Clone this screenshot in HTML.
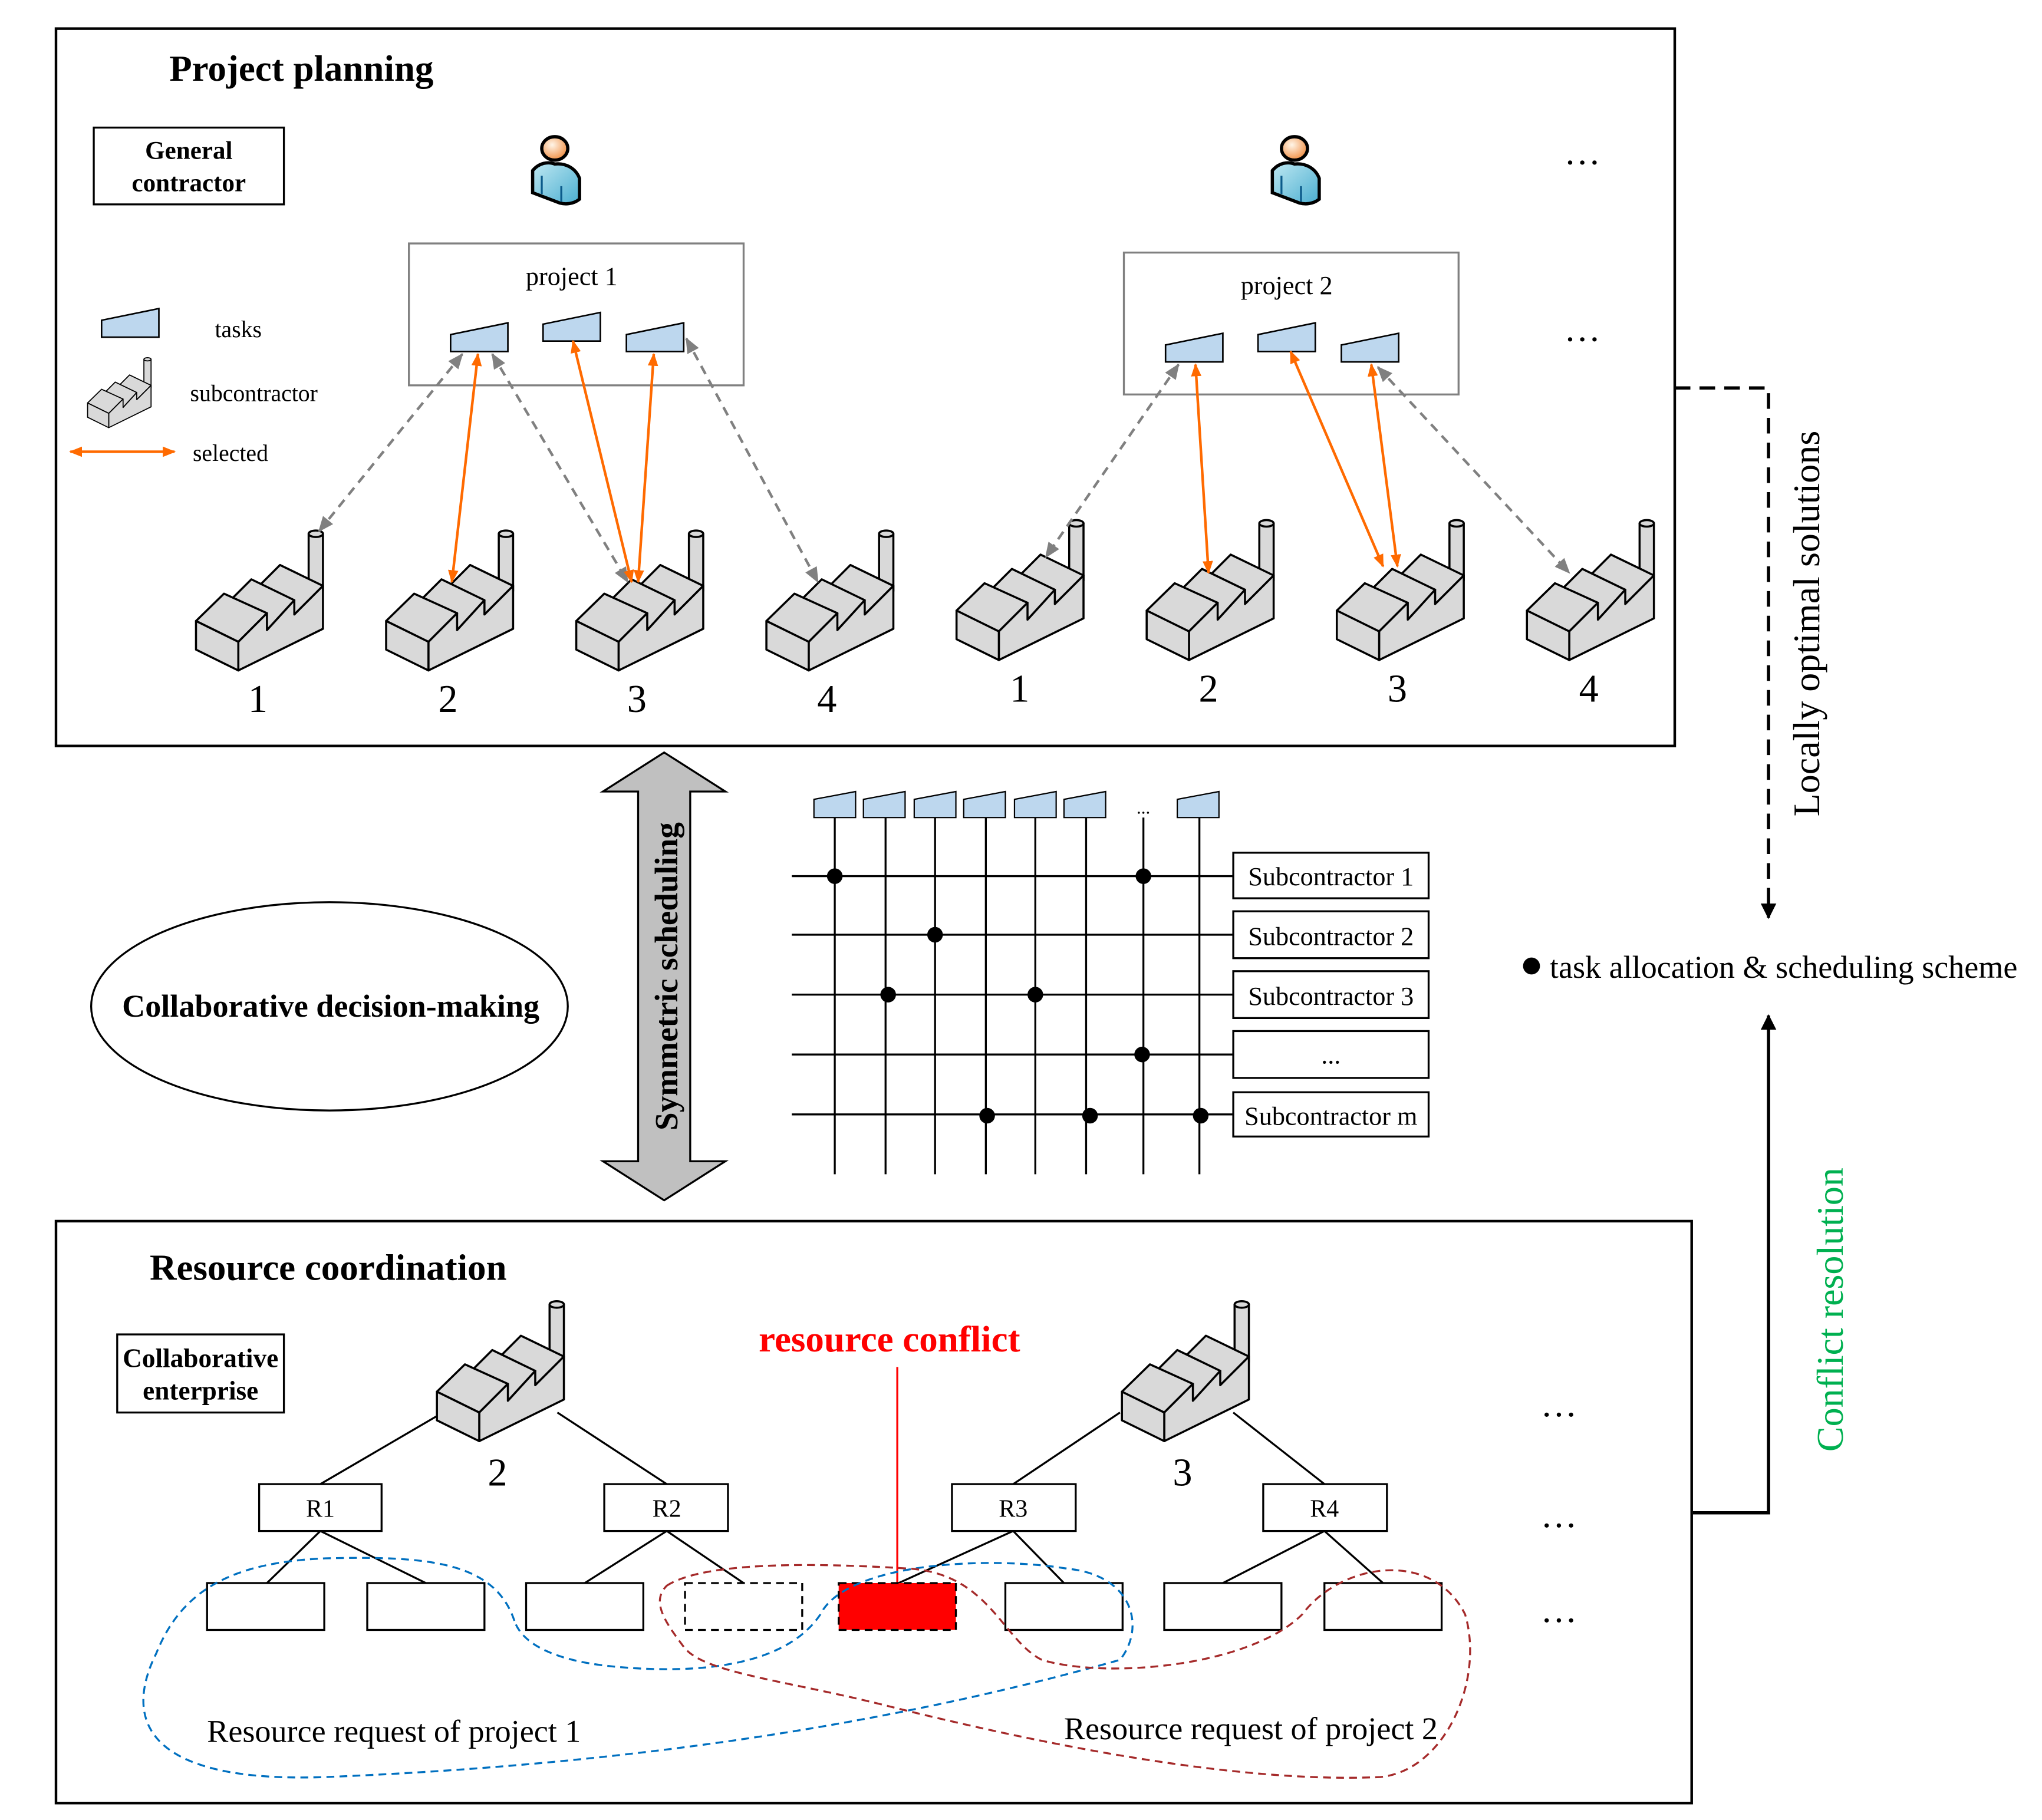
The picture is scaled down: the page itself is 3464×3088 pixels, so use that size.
<!DOCTYPE html>
<html><head><meta charset="utf-8"><style>html,body{margin:0;padding:0;background:#fff}svg{display:block}text{font-family:"Liberation Serif",serif}</style></head><body>
<svg width="3464" height="3088" viewBox="0 0 1568 1398" preserveAspectRatio="none" xmlns="http://www.w3.org/2000/svg">
<defs>
<g id="fac" stroke="#000" stroke-width="1.6" stroke-linejoin="round" fill="#d9d9d9">
<rect x="87" y="2" width="11" height="44"/>
<ellipse cx="92.5" cy="2" rx="5.5" ry="2.5"/>
<polygon points="44,47 65,26 98,42 76,64"/>
<polygon points="22,58 43,37 76,53 55,76"/>
<polygon points="0.5,69 22,48 55,63 33,85"/>
<polygon points="33,85 55,63 55,76 76,53 76,64 98,42 98,75 33,107"/>
<polygon points="0.5,69 33,85 33,107 0.5,91"/>
</g>
<polygon id="tk" points="0,9 44,0 44,22 0,22" fill="#bdd7ee" stroke="#000" stroke-width="1.2"/>
<polygon id="tks" points="0,6 32,0 32,20 0,20" fill="#bdd7ee" stroke="#000" stroke-width="1"/>
<radialGradient id="hg" cx="0.4" cy="0.35" r="0.7"><stop offset="0" stop-color="#fff5e8"/><stop offset="1" stop-color="#f08a3c"/></radialGradient>
<linearGradient id="bg" x1="0" y1="0" x2="1" y2="1"><stop offset="0" stop-color="#bfe8f2"/><stop offset="1" stop-color="#4aaed0"/></linearGradient>
<g id="person" stroke="#000" stroke-width="2.5">
<path d="M-17,8 C-12,2 -5,1 0,3 C8,2 16,6 19,14 L19,30 C14,34 8,34 4,33 L-17,25 Z" fill="url(#bg)"/>
<line x1="-10" y1="12" x2="-10" y2="26" stroke="#0b5a8a" stroke-width="1.5"/>
<line x1="5" y1="20" x2="5" y2="32" stroke="#0b5a8a" stroke-width="1.5"/>
<ellipse cx="0" cy="-9" rx="10" ry="9" fill="url(#hg)"/>
</g>
<marker id="ao" markerWidth="10" markerHeight="10" refX="9" refY="5" orient="auto-start-reverse" markerUnits="userSpaceOnUse"><path d="M0,1 L10,5 L0,9 Z" fill="#ff6a00"/></marker>
<marker id="ag" markerWidth="12" markerHeight="12" refX="11" refY="6" orient="auto-start-reverse" markerUnits="userSpaceOnUse"><path d="M0,1 L12,6 L0,11 Z" fill="#808080"/></marker>
<marker id="ab" markerWidth="12" markerHeight="14" refX="11" refY="7" orient="auto" markerUnits="userSpaceOnUse"><path d="M0,1 L12,7 L0,13 Z" fill="#000"/></marker>
</defs>

<!-- Top box -->
<rect x="43" y="22" width="1243" height="551" fill="none" stroke="#000" stroke-width="2"/>
<text x="130" y="62" font-size="28.5" font-weight="bold">Project planning</text>
<rect x="72" y="98" width="146" height="59" fill="none" stroke="#000" stroke-width="1.5"/>
<text x="145" y="122" font-size="19.5" font-weight="bold" text-anchor="middle">General</text>
<text x="145" y="147" font-size="19.5" font-weight="bold" text-anchor="middle">contractor</text>
<use href="#person" x="426" y="123"/>
<use href="#person" x="994" y="123"/>
<text x="1215" y="126" font-size="28" text-anchor="middle">…</text>
<text x="1215" y="262" font-size="28" text-anchor="middle">…</text>

<use href="#tk" x="78" y="237"/>
<text x="165" y="259" font-size="18">tasks</text>
<g transform="translate(67,275) scale(0.5)"><use href="#fac"/></g>
<text x="146" y="308" font-size="18">subcontractor</text>
<line x1="54" y1="347" x2="134" y2="347" stroke="#ff6a00" stroke-width="2" marker-start="url(#ao)" marker-end="url(#ao)"/>
<text x="148" y="354" font-size="18">selected</text>

<rect x="314" y="187" width="257" height="109" fill="none" stroke="#808080" stroke-width="1.5"/>
<text x="439" y="219" font-size="20" text-anchor="middle">project 1</text>
<use href="#tk" x="346" y="248"/><use href="#tk" x="417" y="240"/><use href="#tk" x="481" y="248"/>
<rect x="863" y="194" width="257" height="109" fill="none" stroke="#808080" stroke-width="1.5"/>
<text x="988" y="226" font-size="20" text-anchor="middle">project 2</text>
<use href="#tk" x="895" y="256"/><use href="#tk" x="966" y="248"/><use href="#tk" x="1030" y="256"/>

<use href="#fac" x="150" y="408"/><use href="#fac" x="296" y="408"/><use href="#fac" x="442" y="408"/><use href="#fac" x="588" y="408"/>
<use href="#fac" x="734" y="400"/><use href="#fac" x="880" y="400"/><use href="#fac" x="1026" y="400"/><use href="#fac" x="1172" y="400"/>
<g font-size="30" text-anchor="middle">
<text x="198" y="547">1</text><text x="344" y="547">2</text><text x="489" y="547">3</text><text x="635" y="547">4</text>
<text x="783" y="539">1</text><text x="928" y="539">2</text><text x="1073" y="539">3</text><text x="1220" y="539">4</text>
</g>
<g stroke="#808080" stroke-width="2" stroke-dasharray="7,5" fill="none" marker-start="url(#ag)" marker-end="url(#ag)">
<line x1="355" y1="272" x2="245" y2="408"/><line x1="378" y1="272" x2="482" y2="447"/><line x1="527" y1="260" x2="628" y2="447"/>
<line x1="905" y1="280" x2="803" y2="428"/><line x1="1058" y1="282" x2="1205" y2="440"/>
</g>
<g stroke="#ff6a00" stroke-width="2" fill="none" marker-start="url(#ao)" marker-end="url(#ao)">
<line x1="367" y1="272" x2="347" y2="447"/><line x1="440" y1="262" x2="485" y2="447"/><line x1="502" y1="272" x2="490" y2="447"/>
<line x1="918" y1="280" x2="928" y2="440"/><line x1="991" y1="270" x2="1062" y2="435"/><line x1="1053" y1="280" x2="1073" y2="435"/>
</g>

<!-- right side -->
<polyline points="1286,298 1358,298 1358,705" fill="none" stroke="#000" stroke-width="2.5" stroke-dasharray="12,7" marker-end="url(#ab)"/>
<text transform="translate(1397,479) rotate(-90)" font-size="29" text-anchor="middle">Locally optimal solutions</text>
<circle cx="1176" cy="742" r="6.5" fill="#000"/>
<text x="1190" y="751" font-size="24.5">task allocation &amp; scheduling scheme</text>
<polyline points="1300,1162 1358,1162 1358,780" fill="none" stroke="#000" stroke-width="2.5" marker-end="url(#ab)"/>
<text transform="translate(1415,1006) rotate(-90)" font-size="29" fill="#00b050" text-anchor="middle">Conflict resolution</text>

<!-- double arrow -->
<polygon points="510,578 557,608 530,608 530,892 557,892 510,922 463,892 490,892 490,608 463,608" fill="#c0c0c0" stroke="#000" stroke-width="1.5"/>
<text transform="translate(520,750) rotate(-90)" font-size="25" font-weight="bold" text-anchor="middle">Symmetric  scheduling</text>

<ellipse cx="253" cy="773" rx="183" ry="80" fill="none" stroke="#000" stroke-width="1.5"/>
<text x="254" y="781" font-size="24.5" font-weight="bold" text-anchor="middle">Collaborative decision-making</text>

<!-- grid -->
<use href="#tks" x="625" y="608"/><use href="#tks" x="663" y="608"/><use href="#tks" x="702" y="608"/><use href="#tks" x="740" y="608"/><use href="#tks" x="779" y="608"/><use href="#tks" x="817" y="608"/><use href="#tks" x="904" y="608"/>
<text x="878" y="625" font-size="14" text-anchor="middle">...</text>
<g stroke="#000" stroke-width="1.5">
<line x1="641" y1="628" x2="641" y2="902"/><line x1="680" y1="628" x2="680" y2="902"/><line x1="718" y1="628" x2="718" y2="902"/><line x1="757" y1="628" x2="757" y2="902"/><line x1="795" y1="628" x2="795" y2="902"/><line x1="834" y1="628" x2="834" y2="902"/><line x1="878" y1="628" x2="878" y2="902"/><line x1="921" y1="628" x2="921" y2="902"/>
<line x1="608" y1="673" x2="947" y2="673"/><line x1="608" y1="718" x2="947" y2="718"/><line x1="608" y1="764" x2="947" y2="764"/><line x1="608" y1="810" x2="947" y2="810"/><line x1="608" y1="856" x2="947" y2="856"/>
</g>
<g fill="#000">
<circle cx="641" cy="673" r="6"/><circle cx="878" cy="673" r="6"/><circle cx="718" cy="718" r="6"/><circle cx="682" cy="764" r="6"/><circle cx="795" cy="764" r="6"/><circle cx="877" cy="810" r="6"/><circle cx="758" cy="857" r="6"/><circle cx="837" cy="857" r="6"/><circle cx="922" cy="857" r="6"/>
</g>
<g fill="#fff" stroke="#000" stroke-width="1.5">
<rect x="947" y="655" width="150" height="35"/><rect x="947" y="700" width="150" height="36"/><rect x="947" y="746" width="150" height="36"/><rect x="947" y="792" width="150" height="36"/><rect x="947" y="839" width="150" height="34"/>
</g>
<g font-size="20" text-anchor="middle">
<text x="1022" y="680">Subcontractor 1</text><text x="1022" y="726">Subcontractor 2</text><text x="1022" y="772">Subcontractor 3</text><text x="1022" y="817">...</text><text x="1022" y="864">Subcontractor m</text>
</g>

<!-- bottom box -->
<rect x="43" y="938" width="1256" height="447" fill="none" stroke="#000" stroke-width="2"/>
<text x="115" y="983" font-size="28.5" font-weight="bold">Resource coordination</text>
<rect x="90" y="1025" width="128" height="60" fill="none" stroke="#000" stroke-width="1.5"/>
<text x="154" y="1050" font-size="20.5" font-weight="bold" text-anchor="middle">Collaborative</text>
<text x="154" y="1075" font-size="20.5" font-weight="bold" text-anchor="middle">enterprise</text>
<g stroke="#000" stroke-width="1.5">
<line x1="335" y1="1088" x2="246" y2="1140"/><line x1="428" y1="1085" x2="512" y2="1140"/>
<line x1="860" y1="1085" x2="778" y2="1140"/><line x1="947" y1="1085" x2="1017" y2="1140"/>
<line x1="246" y1="1176" x2="205" y2="1216"/><line x1="246" y1="1176" x2="327" y2="1216"/>
<line x1="512" y1="1176" x2="449" y2="1216"/><line x1="512" y1="1176" x2="571" y2="1216"/>
<line x1="778" y1="1176" x2="690" y2="1216"/><line x1="778" y1="1176" x2="817" y2="1216"/>
<line x1="1017" y1="1176" x2="939" y2="1216"/><line x1="1017" y1="1176" x2="1062" y2="1216"/>
</g>
<use href="#fac" x="335" y="1000"/><use href="#fac" x="861" y="1000"/>
<text x="382" y="1141" font-size="30" text-anchor="middle">2</text>
<text x="908" y="1141" font-size="30" text-anchor="middle">3</text>
<text x="683" y="1038" font-size="28.5" font-weight="bold" fill="#ff0000" text-anchor="middle">resource conflict</text>
<line x1="689" y1="1050" x2="689" y2="1216" stroke="#ff0000" stroke-width="1.5"/>
<g fill="#fff" stroke="#000" stroke-width="1.5">
<rect x="199" y="1140" width="94" height="36"/><rect x="464" y="1140" width="95" height="36"/><rect x="731" y="1140" width="95" height="36"/><rect x="970" y="1140" width="95" height="36"/>
<rect x="159" y="1216" width="90" height="36"/><rect x="282" y="1216" width="90" height="36"/><rect x="404" y="1216" width="90" height="36"/>
<rect x="526" y="1216" width="90" height="36" stroke-dasharray="6,4"/>
<rect x="772" y="1216" width="90" height="36"/><rect x="894" y="1216" width="90" height="36"/><rect x="1017" y="1216" width="90" height="36"/>
</g>
<rect x="644" y="1216" width="90" height="36" fill="#ff0000" stroke="#000" stroke-width="1.5" stroke-dasharray="6,4"/>
<g font-size="19" text-anchor="middle">
<text x="246" y="1165">R1</text><text x="512" y="1165">R2</text><text x="778" y="1165">R3</text><text x="1017" y="1165">R4</text>
</g>
<text x="1197" y="1088" font-size="28" text-anchor="middle">…</text>
<text x="1197" y="1173" font-size="28" text-anchor="middle">…</text>
<text x="1197" y="1246" font-size="28" text-anchor="middle">…</text>
<path d="M395,1245 C380,1200 330,1195 250,1197 C180,1200 140,1220 120,1270 C95,1320 110,1370 250,1365 C500,1355 700,1320 860,1275 C880,1250 870,1210 820,1205 C760,1195 650,1200 630,1240 C600,1285 520,1285 470,1280 C420,1275 400,1260 395,1245 Z" fill="none" stroke="#0070c0" stroke-width="1.5" stroke-dasharray="6,4"/>
<path d="M512,1218 C540,1200 620,1200 700,1205 C760,1210 770,1260 800,1275 C850,1290 960,1280 1000,1240 C1030,1200 1100,1190 1125,1240 C1140,1290 1110,1360 1060,1365 C950,1370 800,1340 680,1310 C600,1290 540,1285 525,1265 C510,1245 500,1230 512,1218 Z" fill="none" stroke="#a52a2a" stroke-width="1.5" stroke-dasharray="6,4"/>
<text x="159" y="1338" font-size="24.5">Resource request of project 1</text>
<text x="817" y="1336" font-size="24.5">Resource request of project 2</text>
</svg>
</body></html>
